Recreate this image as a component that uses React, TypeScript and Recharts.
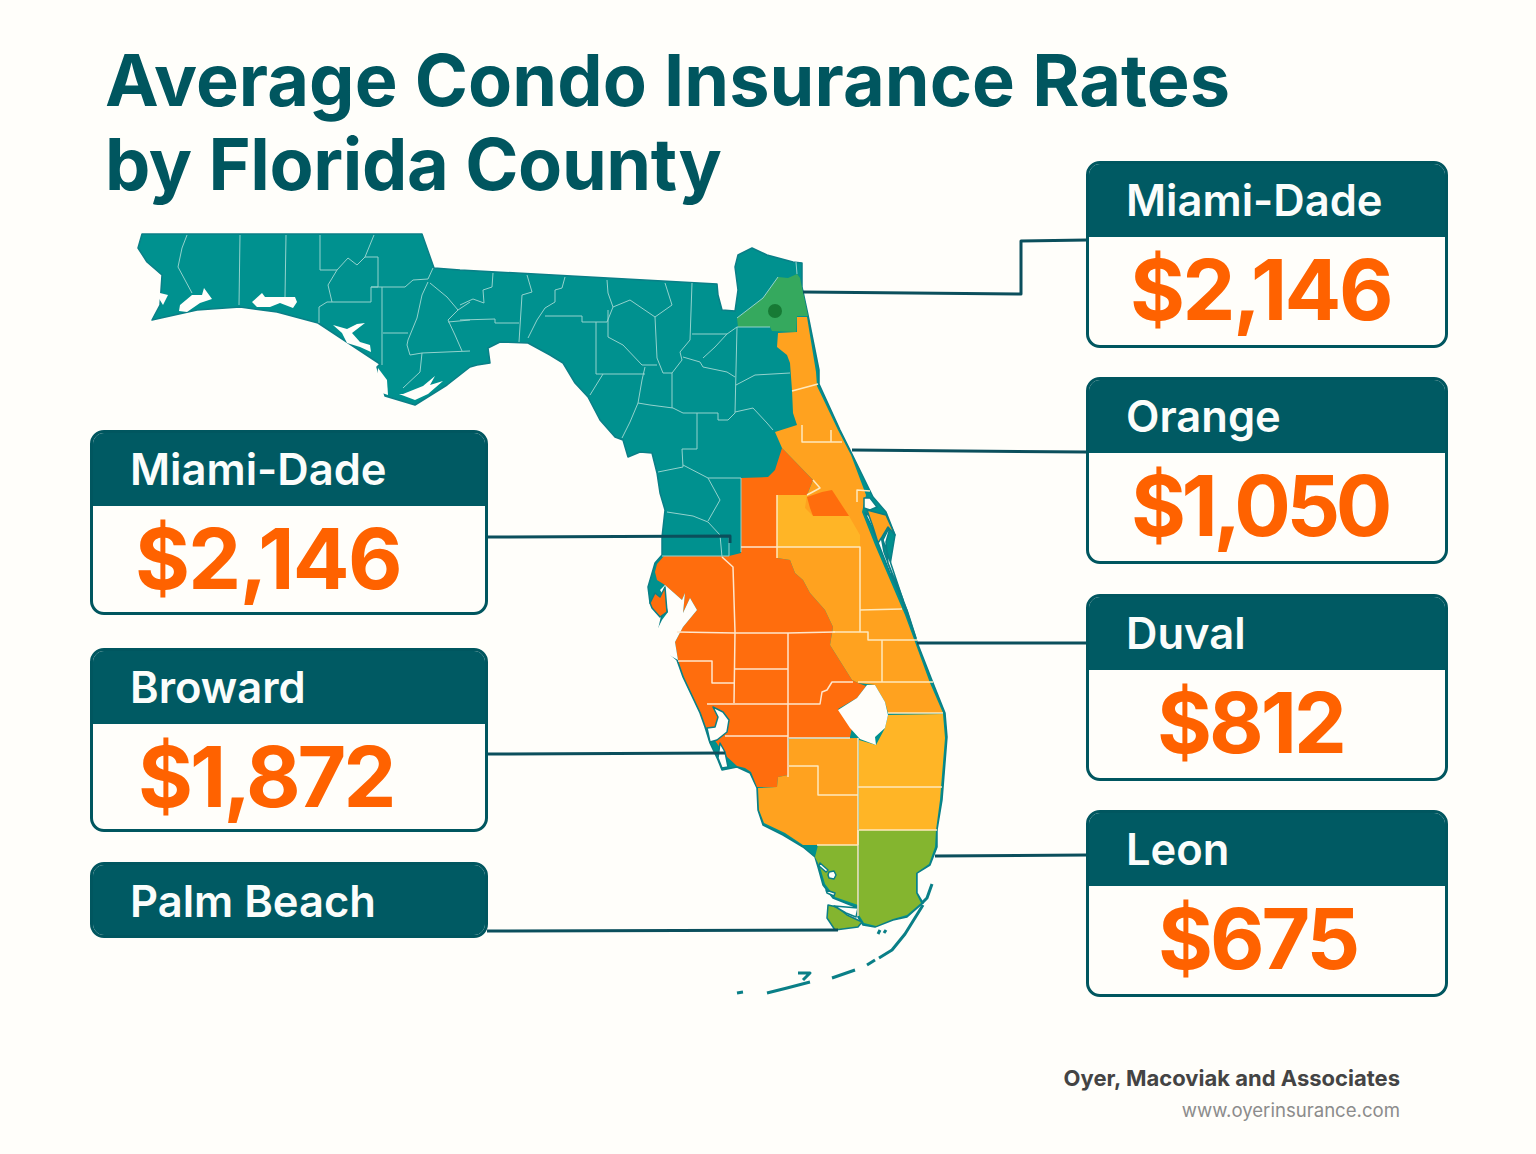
import { Scatter, ScatterChart, XAxis, YAxis } from "recharts";

type Pt = number[];

// map outlines, in map units (x east, y south)
const stateOutline: Pt[] = [
  [142, 234], [422, 234], [434, 268], [460, 270], [717, 284], [718, 295], [722, 310], [735, 311], [738, 290], [735, 267],
  [738, 255], [752, 248], [767, 255], [793, 262], [802, 263], [802, 287], [808, 315], [819, 370], [819, 384], [840, 430],
  [850, 450], [873, 497], [886, 512], [895, 535], [890, 565], [905, 605], [917, 642], [933, 683], [945, 713], [947, 737],
  [942, 800], [937, 830], [937, 847], [930, 865], [917, 873], [917, 893], [923, 903], [907, 917], [893, 920], [875, 927],
  [863, 925], [858, 917], [858, 908], [833, 898], [823, 885], [818, 867], [815, 857], [803, 847], [783, 835], [763, 825],
  [758, 810], [757, 788], [750, 773], [737, 767], [722, 770], [718, 760], [710, 743], [705, 727], [700, 713], [683, 677],
  [677, 660], [663, 648], [658, 633], [662, 615], [650, 603], [648, 587], [655, 563], [662, 555], [662, 537], [665, 510],
  [660, 493], [657, 473], [652, 453], [640, 452], [628, 457], [623, 440], [615, 437], [600, 420], [588, 397], [575, 383],
  [563, 363], [550, 355], [528, 343], [500, 342], [488, 348], [490, 363], [477, 365], [470, 367], [447, 385], [415, 405],
  [385, 396], [377, 367], [380, 364], [318, 323], [277, 312], [240, 307], [197, 310], [152, 320], [160, 305], [162, 275],
  [147, 262], [138, 248],
];
const capeSable: Pt[] = [[828, 905], [837, 907], [847, 915], [862, 922], [858, 927], [835, 930], [827, 918]];

const duvalBlock: Pt[] = [
  [737, 318], [763, 298], [778, 277], [788, 278], [797, 274], [800, 278], [808, 316], [797, 316], [796, 332], [772, 331],
  [770, 327], [738, 327],
];
const duvalDot: Pt[] = [[775, 311]];

const centralWest: Pt[] = [
  [741, 478], [768, 477], [775, 470], [782, 448], [813, 480], [807, 495], [777, 495], [777, 558], [790, 560], [795, 573],
  [803, 580], [810, 593], [825, 610], [833, 627], [830, 645], [852, 680], [858, 683], [866, 686], [857, 698], [838, 709],
  [852, 728], [850, 737], [788, 738], [788, 775], [778, 777], [777, 787], [757, 787], [751, 772], [745, 768], [737, 766],
  [725, 755], [718, 745], [706, 727], [701, 713], [684, 677], [678, 660], [675, 642], [683, 627], [697, 610], [690, 598],
  [683, 613], [685, 593], [682, 600], [665, 585], [657, 580], [655, 572], [657, 564], [664, 556], [729, 556], [741, 553],
];
const pinellas: Pt[] = [[650, 603], [655, 593], [660, 597], [665, 587], [667, 612], [660, 617], [652, 608]];
const orangeCounty: Pt[] = [[807, 497], [822, 492], [832, 490], [849, 516], [813, 516], [810, 508]];

const eastCoast: Pt[] = [
  [797, 317], [807, 317], [816, 372], [817, 386], [838, 430], [851, 455], [866, 495], [862, 512], [875, 545], [890, 580],
  [905, 615], [915, 642], [930, 683], [943, 713], [888, 713], [885, 702], [875, 685], [858, 683], [852, 680], [830, 645],
  [833, 627], [825, 610], [810, 593], [803, 580], [795, 573], [790, 560], [777, 558], [777, 495], [807, 495], [813, 480],
  [782, 448], [775, 432], [797, 425], [793, 413], [792, 390], [790, 363], [787, 355], [777, 347], [778, 333], [797, 332],
];
const merrittIsland: Pt[] = [[867, 510], [886, 515], [895, 535], [888, 527], [882, 537], [878, 543], [873, 527]];
const swFlorida: Pt[] = [
  [789, 739], [858, 738], [858, 845], [817, 845], [803, 845], [785, 833], [764, 823], [759, 810], [758, 788], [777, 787],
  [778, 777], [788, 775],
];
const osceola: Pt[] = [
  [777, 495], [807, 495], [805, 508], [813, 516], [849, 516], [860, 535], [860, 547], [777, 547],
];
const palmBeach: Pt[] = [
  [888, 715], [943, 714], [945, 738], [940, 800], [936, 830], [859, 830], [859, 740], [876, 745], [885, 728],
];
const browardDade: Pt[] = [
  [859, 830], [936, 830], [935, 847], [929, 864], [916, 873], [916, 893], [921, 903], [907, 915], [893, 919], [876, 926],
  [864, 923], [859, 915],
];
const collier: Pt[] = [[858, 845], [818, 845], [815, 857], [820, 867], [825, 884], [835, 897], [858, 905]];

const lakeOkeechobee: Pt[] = [
  [867, 685], [875, 685], [885, 702], [888, 715], [885, 728], [875, 737], [876, 745], [860, 739], [850, 728], [838, 710],
  [857, 698],
];
const tampaBay: Pt[] = [
  [660, 590], [665, 585], [682, 600], [685, 593], [683, 613], [690, 598], [697, 610], [683, 627], [675, 642], [678, 660],
  [660, 650], [656, 632], [662, 620], [668, 612], [664, 596],
];
const bays: Pt[][] = [
  [[180, 305], [192, 295], [202, 295], [204, 288], [212, 299], [200, 303], [187, 312], [179, 311]],
  [[252, 302], [262, 293], [265, 297], [285, 297], [295, 297], [297, 302], [293, 308], [280, 303], [270, 307], [257, 307]],
  [[333, 325], [347, 329], [357, 324], [365, 323], [352, 333], [360, 342], [370, 345], [371, 352], [360, 347], [347, 343], [342, 333]],
  [[403, 394], [423, 386], [435, 376], [430, 385], [443, 381], [428, 394], [415, 400], [399, 394]],
  [[378, 368], [387, 380], [388, 395], [382, 393], [377, 382]],
  [[160, 293], [168, 295], [163, 305], [158, 297]],
];
const lagoons: Pt[][] = [
  [[864, 498], [870, 498], [877, 507], [870, 510], [864, 508]],
  [[865, 513], [872, 527], [877, 540], [890, 573], [907, 610], [916, 638], [898, 590], [884, 552], [880, 530], [870, 516]],
  [[883, 540], [888, 530], [890, 528], [886, 542], [888, 563], [903, 600]],
  [[713, 707], [723, 712], [729, 720], [727, 732], [717, 740], [710, 742], [707, 728], [715, 727], [718, 717]],
  [[720, 743], [725, 752], [728, 767], [722, 768], [718, 758]],
  [[820, 863], [828, 870], [826, 872], [819, 866]],
  [[829, 872], [834, 871], [836, 875], [834, 879], [829, 878], [828, 875]],
  [[826, 890], [835, 893], [834, 896], [827, 893]],
  [[834, 906], [858, 908], [856, 917], [846, 913]],
];
const keys: Pt[][] = [
  [[737, 993], [743, 992]],
  [[767, 993], [787, 988], [810, 982]],
  [[798, 973], [810, 973], [803, 980]],
  [[832, 978], [855, 970]],
  [[867, 965], [875, 960]],
  [[879, 958], [892, 950], [905, 934], [923, 905]],
  [[932, 884], [927, 898], [922, 903]],
  [[878, 934], [880, 930]],
  [[884, 933], [886, 930]],
];

const northBorders: Pt[][] = [
  [[187, 235], [182, 248], [178, 267], [185, 280], [192, 293]],
  [[240, 235], [239, 305]],
  [[286, 235], [285, 297]],
  [[320, 235], [320, 270], [337, 270], [348, 258], [357, 265], [365, 257], [378, 257], [378, 287], [371, 287], [371, 302], [327, 302], [319, 307], [319, 323]],
  [[374, 235], [365, 257]],
  [[337, 270], [328, 285], [332, 302]],
  [[371, 287], [405, 287], [413, 280], [428, 279], [433, 268]],
  [[382, 287], [382, 365]],
  [[383, 333], [408, 333]],
  [[428, 282], [422, 295], [417, 318], [408, 340], [407, 345], [410, 355], [422, 353], [470, 351]],
  [[422, 353], [420, 372], [403, 388]],
  [[430, 283], [447, 297], [458, 310], [448, 320], [455, 335], [462, 351]],
  [[458, 310], [470, 302]],
  [[448, 322], [470, 320]],
  [[493, 273], [492, 287], [483, 290], [484, 303], [473, 299], [460, 305]],
  [[460, 320], [495, 319], [495, 323], [519, 323]],
  [[527, 275], [532, 292], [522, 295], [519, 342]],
  [[565, 277], [562, 288], [555, 290], [555, 302], [545, 308], [537, 320], [528, 338]],
  [[545, 316], [582, 316], [582, 322], [607, 322], [613, 307], [630, 300], [655, 317], [672, 305], [665, 283]],
  [[607, 280], [608, 293], [613, 307]],
  [[608, 310], [608, 337], [623, 345], [642, 365], [657, 365]],
  [[596, 322], [596, 374], [645, 374]],
  [[603, 374], [590, 395]],
  [[655, 317], [657, 358], [663, 373], [672, 373], [682, 360], [680, 352], [690, 340], [692, 283]],
  [[692, 334], [727, 334], [737, 327], [770, 327]],
  [[727, 334], [715, 347], [703, 358]],
  [[683, 357], [700, 362], [703, 367], [727, 372], [735, 377]],
  [[737, 327], [735, 413], [728, 420], [718, 420], [718, 413], [683, 413], [673, 408], [650, 405], [638, 403], [642, 380], [645, 367]],
  [[672, 373], [672, 408]],
  [[736, 385], [755, 375], [790, 373]],
  [[735, 412], [753, 408], [767, 423], [773, 430]],
  [[697, 413], [697, 449], [682, 449], [683, 467], [658, 472]],
  [[638, 403], [630, 422], [622, 438]],
  [[683, 465], [708, 478], [741, 478]],
  [[708, 478], [720, 500], [708, 521]],
  [[667, 512], [693, 516], [708, 522], [720, 535], [722, 557]],
  [[741, 478], [741, 552]],
  [[662, 556], [729, 556], [729, 535]],
  [[796, 262], [797, 274]],
  [[737, 318], [763, 298], [778, 277]],
];
const centralBorders: Pt[][] = [
  [[722, 557], [733, 567], [735, 632], [734, 703]],
  [[741, 547], [777, 547]],
  [[677, 632], [735, 633], [788, 633], [835, 632]],
  [[788, 633], [788, 777]],
  [[735, 669], [788, 669]],
  [[678, 661], [712, 661], [712, 683], [734, 683]],
  [[707, 704], [820, 704], [822, 692], [827, 690], [832, 682], [853, 682]],
  [[725, 736], [788, 736]],
  [[789, 738], [850, 738]],
];
const eastBorders: Pt[][] = [
  [[792, 391], [818, 384]],
  [[802, 425], [802, 442], [842, 442]],
  [[831, 430], [831, 442]],
  [[813, 480], [820, 488], [807, 495]],
  [[857, 502], [857, 490], [870, 491]],
  [[777, 495], [777, 558]],
  [[777, 547], [860, 547], [860, 632]],
  [[860, 610], [902, 609]],
  [[833, 632], [868, 632], [868, 640], [917, 640]],
  [[882, 640], [882, 682]],
  [[858, 682], [933, 682]],
  [[888, 713], [943, 713]],
  [[789, 766], [818, 766], [818, 795], [858, 795]],
  [[858, 738], [858, 845]],
  [[858, 787], [942, 787]],
  [[859, 830], [937, 830]],
  [[858, 830], [858, 916]],
  [[817, 845], [858, 845]],
];

const leaderLines: Pt[][] = [
  [[1087, 240], [1021, 241], [1021, 294], [803, 292]],
  [[1087, 452], [852, 450]],
  [[1087, 643], [917, 643]],
  [[1087, 855], [935, 856]],
  [[487, 537], [730, 536], [730, 543]],
  [[487, 754], [725, 753]],
  [[487, 931], [838, 930]],
];

// callouts
const rightCounties = ["Miami-Dade", "Orange", "Duval", "Leon"];
const rightRates = ["$2,146", "$1,050", "$812", "$675"];
const leftCounties = ["Miami-Dade", "Broward", "Palm Beach"];
const leftRates = ["$2,146", "$1,872", ""];

const rightTops = [161, 377, 594, 810];
const rightRateX = [1130, 1131, 1157, 1158];
const rightTracking = [-2.5, -4.5, -3, -3];
const leftTops = [430, 648, 862];
const leftHeights = [185, 184, 76];
const leftRateX = [135, 138, 0];
const leftTracking = [-1.7, -3, 0];

const FONT = "Inter, sans-serif";
const INK = "#00565f";
const HEADER = "#005a63";
const RATE = "#ff6200";
const PAPER = "#fffefa";
const COAST = "#0a7f87";

const asPoints = (pts: Pt[]) => pts.map(([x, y]) => ({ x, y }));

const pathFrom = (points: { x: number; y: number }[], closed: boolean) =>
  points.map((p, i) => `${i ? "L" : "M"}${p.x},${p.y}`).join(" ") + (closed ? " Z" : "");

const noDot = () => <g />;

function shapeSeries(key: string, pts: Pt[], fill: string, stroke = "none", strokeWidth = 0) {
  return (
    <Scatter
      key={key}
      data={asPoints(pts)}
      isAnimationActive={false}
      shape={noDot}
      line={(p: any) => (
        <path d={pathFrom(p.points, true)} fill={fill} stroke={stroke} strokeWidth={strokeWidth} strokeLinejoin="round" />
      )}
    />
  );
}

function lineSeries(key: string, pts: Pt[], stroke: string, strokeWidth: number) {
  return (
    <Scatter
      key={key}
      data={asPoints(pts)}
      isAnimationActive={false}
      shape={noDot}
      line={(p: any) => (
        <path d={pathFrom(p.points, false)} fill="none" stroke={stroke} strokeWidth={strokeWidth} strokeLinejoin="round" />
      )}
    />
  );
}

function Callout({ left, top, width, height, name, rate, rateX, tracking }: any) {
  const hasRate = rate !== "";
  return (
    <div
      style={{
        position: "absolute",
        left,
        top,
        width,
        height,
        boxSizing: "border-box",
        border: `3px solid ${INK}`,
        borderRadius: 14,
        background: PAPER,
        overflow: "hidden",
      }}
    >
      <div
        style={{
          height: 73,
          background: HEADER,
          color: "#fbfdfb",
          fontSize: 43.5,
          fontWeight: 600,
          lineHeight: "72px",
          paddingLeft: 37,
          whiteSpace: "nowrap",
        }}
      >
        {name}
      </div>
      {hasRate && (
        <div
          style={{
            position: "absolute",
            left: rateX - left - 3,
            top: 75,
            color: RATE,
            fontSize: 84,
            fontWeight: 700,
            letterSpacing: tracking,
            lineHeight: "102px",
            whiteSpace: "nowrap",
          }}
        >
          {rate}
        </div>
      )}
    </div>
  );
}

export default function App() {
  return (
    <div style={{ position: "absolute", left: 0, top: 0, width: 1536, height: 1154, background: PAPER, fontFamily: FONT, overflow: "hidden" }}>
      <ScatterChart width={1536} height={1154} margin={{ top: 0, right: 0, bottom: 0, left: 0 }}>
        <XAxis type="number" dataKey="x" domain={[0, 1536]} hide />
        <YAxis type="number" dataKey="y" domain={[0, 1154]} reversed hide />

        {shapeSeries("state", stateOutline, "#00918f", COAST, 1.5)}
        {shapeSeries("cape", capeSable, "#84b52f", COAST, 1.5)}
        {shapeSeries("duval", duvalBlock, "#35a95e")}
        {shapeSeries("central", centralWest, "#ff6d0d")}
        {shapeSeries("east", eastCoast, "#ffa21f")}
        {shapeSeries("orange", orangeCounty, "#ff6d0d")}
        {shapeSeries("sw", swFlorida, "#ffa21f")}
        {shapeSeries("osceola", osceola, "#ffb526")}
        {shapeSeries("palm", palmBeach, "#ffb526")}
        {shapeSeries("dade", browardDade, "#84b52f")}
        {shapeSeries("collier", collier, "#84b52f")}

        {bays.map((b, i) => shapeSeries(`bay${i}`, b, PAPER))}
        {shapeSeries("tampa", tampaBay, PAPER)}
        {shapeSeries("pinellas", pinellas, "#ff6d0d", COAST, 1.5)}
        {lagoons.map((b, i) => shapeSeries(`lagoon${i}`, b, PAPER, COAST, 1.5))}
        {shapeSeries("merritt", merrittIsland, "#ffa21f", COAST, 1.5)}
        {shapeSeries("lake", lakeOkeechobee, PAPER)}
        {keys.map((k, i) => lineSeries(`key${i}`, k, COAST, 3))}

        {northBorders.map((b, i) => lineSeries(`nb${i}`, b, "#93d2cd", 1))}
        {centralBorders.map((b, i) => lineSeries(`cb${i}`, b, "#ffe6cc", 1.5))}
        {eastBorders.map((b, i) => lineSeries(`eb${i}`, b, "#ffe9bd", 1.5))}

        <Scatter
          data={asPoints(duvalDot)}
          isAnimationActive={false}
          shape={(p: any) => <circle cx={p.cx} cy={p.cy} r={7} fill="#177a35" />}
        />
        {leaderLines.map((l, i) => lineSeries(`leader${i}`, l, "#0b4f5c", 3))}
      </ScatterChart>

      <div style={{ position: "absolute", left: 105, top: 38, color: INK, fontSize: 72, fontWeight: 700, lineHeight: "84px", whiteSpace: "nowrap" }}>
        <span style={{ letterSpacing: 0.07 }}>Average Condo Insurance Rates</span>
        <br />
        <span style={{ letterSpacing: -0.35 }}>by Florida County</span>
      </div>

      {rightCounties.map((name, i) => (
        <Callout key={name} left={1086} top={rightTops[i]} width={362} height={187} name={name} rate={rightRates[i]} rateX={rightRateX[i]} tracking={rightTracking[i]} />
      ))}
      {leftCounties.map((name, i) => (
        <Callout key={name} left={90} top={leftTops[i]} width={398} height={leftHeights[i]} name={name} rate={leftRates[i]} rateX={leftRateX[i]} tracking={leftTracking[i]} />
      ))}

      <div style={{ position: "absolute", right: 136, top: 1065, color: "#444444", fontSize: 22, fontWeight: 700, whiteSpace: "nowrap" }}>
        Oyer, Macoviak and Associates
      </div>
      <div style={{ position: "absolute", right: 136, top: 1099, color: "#8c8c8c", fontSize: 18.6, whiteSpace: "nowrap" }}>
        www.oyerinsurance.com
      </div>
    </div>
  );
}
